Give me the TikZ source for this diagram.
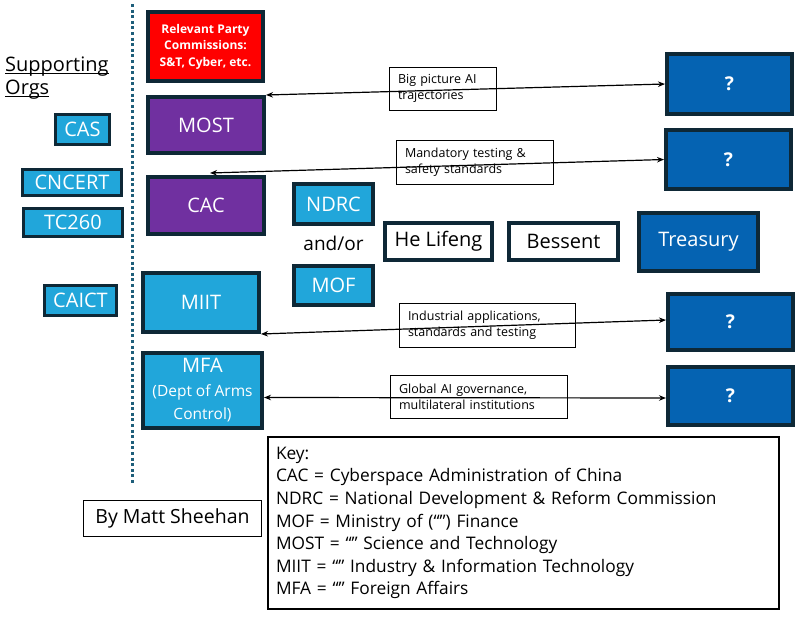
\documentclass[tikz,border=0pt]{standalone}
\usepackage{fontspec}
\setmainfont{Open Sans}
\usetikzlibrary{arrows.meta}
\definecolor{lblue}{RGB}{33,166,218}
\definecolor{dblue}{RGB}{5,99,178}
\definecolor{dborder}{RGB}{14,40,54}
\definecolor{purp}{RGB}{112,48,160}
\definecolor{dotc}{RGB}{30,94,122}
\newcommand\myul[1]{\setbox0\hbox{#1}\rlap{\rule[-2.6pt]{\wd0}{1.3pt}}\box0}
\begin{document}
\begin{tikzpicture}[x=1pt,y=-1pt,
  sz/.style 2 args={minimum width=#1pt, minimum height=#2pt},
  box/.style={draw=dborder, line width=4pt, inner sep=0pt, text=white, align=center,
              font=\fontsize{20}{24}\selectfont},
  sbox/.style={box, line width=2.5pt, fill=lblue},
  wbox/.style={box, fill=white, text=black, line width=3.5pt},
  qbox/.style={box, fill=dblue, font=\bfseries\fontsize{19}{24}\selectfont},
  lbl/.style={draw=black, line width=1pt, inner xsep=9pt, inner ysep=0pt, align=left,
              font=\fontsize{12.5}{16}\selectfont},
  link/.style={line width=1.2pt, {Stealth[length=7pt,width=5.5pt]}-{Stealth[length=7pt,width=5.5pt]}}]
\useasboundingbox (0,0) rectangle (808,616);

% divider
\coordinate (dtop) at (132,4);
\coordinate (dbot) at (132,484);
\draw[dotc, line width=3pt, dash pattern=on 3pt off 2.6pt] (dtop) -- (dbot);

% supporting orgs
\node[anchor=north west, inner sep=0pt, align=left, font=\fontsize{20}{23}\selectfont] (sup) at (5,57)
  {\myul{Supporting}\\\myul{Orgs}};
\node[sbox, sz={54}{30}] (cas) at (82.5,129.5) {CAS};
\node[sbox, sz={99}{26}, fill=lblue] (cncert) at (72,182.5) {CNCERT};
\node[sbox, sz={99}{28}] (tc) at (73,222.5) {TC260};
\node[sbox, sz={72}{30}] (caict) at (80.5,300.5) {CAICT};

% main column
\node[box, sz={115}{69}, fill=red, font=\bfseries\fontsize{12}{16.5}\selectfont] (party) at (205.5,46.5)
  {Relevant Party\\Commissions:\\S\&T, Cyber, etc.};
\node[box, sz={116}{56}, fill=purp] (most) at (206,125) {MOST};
\node[box, sz={116}{57}, fill=purp] (cac) at (206,205.5) {CAC};
\node[box, sz={116}{59}, fill=lblue] (miit) at (201,302.5) {MIIT};
\node[box, sz={119}{75}, fill=lblue, font=\fontsize{20}{23.5}\selectfont] (mfa) at (202.5,390.5)
  {MFA\\{\fontsize{15.5}{23.5}\selectfont (Dept of Arms}\\{\fontsize{15.5}{23.5}\selectfont Control)}};

% middle
\node[box, sz={79}{40}, fill=lblue] (ndrc) at (333.5,204) {NDRC};
\node[inner sep=0pt, font=\fontsize{19}{24}\selectfont] (andor) at (333.5,243) {and/or};
\node[box, sz={79}{39}, fill=lblue] (mof) at (333.5,285.5) {MOF};
\node[wbox, sz={107}{37}] (he) at (438.5,241.5) {He Lifeng};
\node[wbox, sz={109}{37}] (bessent) at (563.5,241.5) {Bessent};
\node[box, sz={119}{58}, fill=dblue] (treasury) at (698.5,241.5) {Treasury};

% question boxes
\node[qbox, sz={125}{60}] (q1) at (729.5,84) {?};
\node[qbox, sz={125}{59}] (q2) at (728.5,159.5) {?};
\node[qbox, sz={125}{56}] (q3) at (730.5,322) {?};
\node[qbox, sz={125}{58}] (q4) at (730.5,396) {?};

% links
\draw[link] (most.north east) -- (q1.west);
\draw[link] ([xshift=4pt,yshift=2pt]cac.north) -- (q2.west);
\draw[link] (miit.south east) -- ([yshift=2pt]q3.west);
\draw[link] ([yshift=-7pt]mfa.east) -- ([yshift=-2pt]q4.west);

% link labels
\node[lbl, text width=89pt, minimum height=43pt] (l1) at (442.5,88.5) {Big picture AI\\trajectories};
\node[lbl, text width=139pt, minimum height=44pt] (l2) at (474.5,162) {Mandatory testing \&\\safety standards};
\node[lbl, text width=158pt, minimum height=44pt] (l3) at (487,325) {Industrial applications,\\standards and testing};
\node[lbl, text width=159pt, minimum height=43pt] (l4) at (478.5,396.5) {Global AI governance,\\multilateral institutions};

% key and author
\node[draw=black, line width=1.6pt, inner xsep=8pt, inner ysep=0pt, text width=495pt, minimum height=172pt,
      align=left, font=\fontsize{17.3}{22.6}\selectfont] (key) at (523.5,523)
  {Key:\\
   CAC = Cyberspace Administration of China\\
   NDRC = National Development \& Reform Commission\\
   MOF = Ministry of (“”) Finance\\
   MOST = “” Science and Technology\\
   MIIT = “” Industry \& Information Technology\\
   MFA = “” Foreign Affairs};
\node[draw=black, line width=1pt, inner sep=0pt, minimum width=178pt, minimum height=36pt,
      font=\fontsize{19.5}{22}\selectfont] (author) at (172.5,518.5) {By Matt Sheehan};
\end{tikzpicture}
\end{document}
